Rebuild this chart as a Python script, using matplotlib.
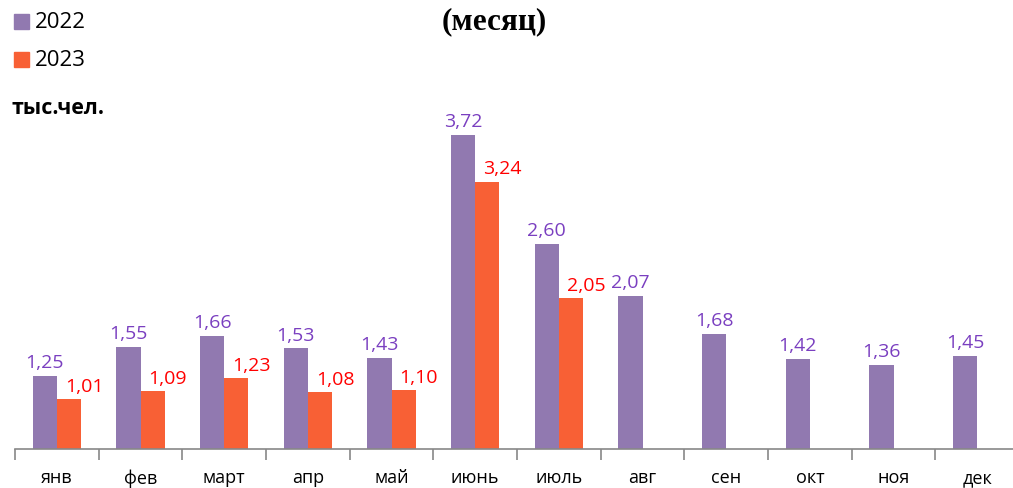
import matplotlib
matplotlib.use("Agg")
import matplotlib.pyplot as plt
import numpy as np

months = ["янв", "фев", "март", "апр", "май", "июнь", "июль", "авг", "сен", "окт", "ноя", "дек"]
v2022 = [1.25, 1.55, 1.66, 1.53, 1.43, 3.72, 2.60, 2.07, 1.68, 1.42, 1.36, 1.45]
v2023 = [1.01, 1.09, 1.23, 1.08, 1.10, 3.24, 2.05]

c22 = "#9179B0"
c23 = "#F86035"
lab22 = "#7A3FC0"
lab23 = "#FF0000"

W, H = 1013, 489
fig = plt.figure(figsize=(W/100, H/100), dpi=100)
# axes: left 15px, bottom at 450px, right 1019px, top at 108px
ax = fig.add_axes([15/W, (H-450)/H, (1019-15)/W, (450-108)/H])
ax.set_xlim(-0.5, 11.5)
ax.set_ylim(0.5, 0.5 + 342/97.6)

bw = 0.287
x = np.arange(len(months))
ax.bar(x[:len(v2022)] - bw/2, np.array(v2022) - 0.5, bottom=0.5, width=bw, color=c22, label="2022")
x23 = np.arange(len(v2023))
ax.bar(x23 + bw/2, np.array(v2023) - 0.5, bottom=0.5, width=bw, color=c23, label="2023")

fam = ["Open Sans", "DejaVu Sans"]
for xi, v in zip(x, v2022):
    ax.annotate(f"{v:.2f}".replace(".", ","), (xi - bw/2, v), xytext=(0, 3.5), textcoords="offset points",
                ha="center", va="bottom", color=lab22, fontsize=14, family=fam)
for xi, v in zip(x23, v2023):
    ax.annotate(f"{v:.2f}".replace(".", ","), (xi + bw/2, v), xytext=(11, 3), textcoords="offset points",
                ha="center", va="bottom", color=lab23, fontsize=14, family=fam)

for s in ["top", "right", "left"]:
    ax.spines[s].set_visible(False)
ax.spines["bottom"].set_color("#888888")
ax.spines["bottom"].set_linewidth(1.2)
ax.set_yticks([])
ax.set_xticks(x)
ax.set_xticklabels(months, fontsize=13, family=fam)
ax.tick_params(axis="x", length=0, pad=14)
ax.set_xticks(np.arange(-0.5, 12, 1), minor=True)
ax.tick_params(axis="x", which="minor", length=8, color="#888888", width=1.2)

# legend
fig.patches.append(plt.Rectangle((14/W, 1-29.5/H), 15/W, 14.5/H, transform=fig.transFigure, color=c22))
fig.patches.append(plt.Rectangle((14/W, 1-67.7/H), 15/W, 14.5/H, transform=fig.transFigure, color=c23))
fig.text(35/W, 1-22/H, "2022", fontsize=16, family=fam, va="center", ha="left")
fig.text(35/W, 1-60/H, "2023", fontsize=16, family=fam, va="center", ha="left")
fig.text(11/W, 1-108/H, "тыс.чел.", fontsize=15.5, fontweight="bold", family=fam, va="center", ha="left")
fig.text(494/W, 1-22/H, "(месяц)", fontsize=22.5, fontweight="bold", family=["Liberation Serif", "DejaVu Serif"],
         va="center", ha="center")

fig.savefig("out.png", dpi=100)
